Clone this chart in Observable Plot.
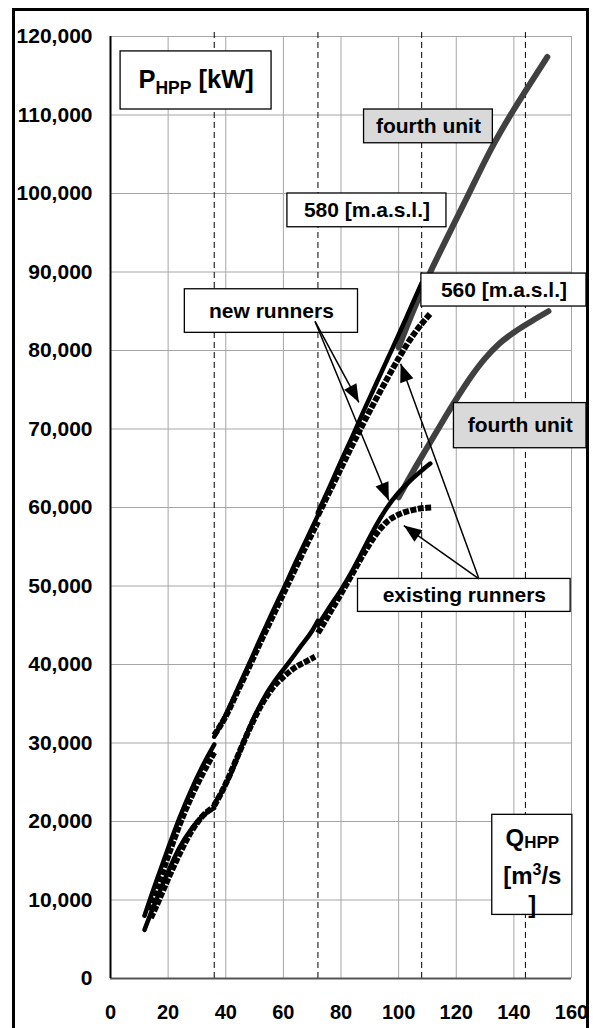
<!DOCTYPE html>
<html>
<head>
<meta charset="utf-8">
<script src="https://cdn.jsdelivr.net/npm/d3@7"></script>
<script src="https://cdn.jsdelivr.net/npm/@observablehq/plot@0.6"></script>
<style>
  html, body { margin: 0; padding: 0; background: #fff; }
  #wrap { position: relative; width: 593px; height: 1028px; overflow: hidden; }
  #frame { position: absolute; left: 12px; top: 8px; width: 571px; height: 1040px;
           border: 3px solid #000; pointer-events: none; }
</style>
</head>
<body>
<div id="wrap"></div>
<script>
// Power output of the HPP P [kW] against discharge Q [m3/s].
// Each curve is split at the points where another unit comes on line
// (one, two, three units); the fourth unit extends the range.

const qTicks = [0, 20, 40, 60, 80, 100, 120, 140, 160];
const pTicks = [0, 10000, 20000, 30000, 40000, 50000, 60000, 70000, 80000, 90000, 100000, 110000, 120000];
const unitLimits = [36, 72, 108, 144];

// headwater 580 m a.s.l.
const new580 = [
  [[11.8, 8000], [14, 10400], [16, 12500], [20, 16600], [24, 20500], [28, 24000], [32, 27100], [36, 29800]],
  [[36, 30800], [40, 33600], [44, 36800], [48, 40000], [52, 43300], [56, 46500], [60, 49600], [64, 52800], [68, 55900], [72, 59000]],
  [[72, 59400], [76, 62600], [80, 65900], [84, 69100], [88, 72400], [92, 75600], [96, 78800], [100, 82000], [104, 85300], [108, 88600]]
];
const existing580 = [
  [[13.5, 8700], [16, 11300], [20, 15600], [24, 19600], [28, 23100], [32, 26100], [36, 28800]],
  [[36, 31000], [40, 33400], [44, 36500], [48, 39600], [52, 42800], [56, 45900], [60, 49000], [64, 52100], [68, 55200], [72, 58200]],
  [[72, 59000], [76, 62000], [80, 65000], [84, 68000], [88, 70900], [92, 73700], [96, 76400], [100, 79000], [104, 81400], [108, 83400], [111, 84700]]
];
const fourth580 = [
  [[100, 80400], [105, 85000], [110, 89200], [117, 94500], [124, 99700], [132, 105600], [140, 110700], [146, 114200], [151.6, 117400]]
];

// headwater 560 m a.s.l.
const new560 = [
  [[11.8, 6200], [14, 8300], [16, 10100], [20, 13600], [24, 16700], [28, 19000], [32, 20700], [36, 21700]],
  [[36, 22300], [38, 23400], [42, 26300], [46, 30000], [50, 33400], [54, 36200], [58, 38400], [62, 40300], [66, 42300], [70, 44300], [72, 45600]],
  [[72, 45000], [76, 47300], [80, 49500], [84, 52000], [88, 54800], [92, 57600], [96, 60000], [100, 61900], [104, 63400], [108, 64700], [111, 65600]]
];
const existing560 = [
  [[14, 7700], [16, 9300], [20, 12700], [24, 15900], [28, 18700], [32, 20700], [36, 21900]],
  [[36, 22000], [40, 24800], [44, 28200], [48, 31600], [52, 34600], [56, 36900], [60, 38400], [64, 39600], [68, 40400], [71, 41000]],
  [[72, 44000], [76, 46500], [80, 49000], [84, 51600], [88, 54200], [92, 56500], [96, 58200], [100, 59100], [104, 59600], [108, 59900], [111.5, 60000]]
];
const fourth560 = [
  [[100, 61300], [105, 64600], [110, 67700], [115, 70800], [120, 73800], [125, 76600], [130, 79000], [135, 80900], [140, 82300], [146, 83700], [152, 85000]]
];

const rows = (segs, key) =>
  segs.flatMap((seg, i) => seg.map(([q, p]) => ({q, p, seg: `${key}-${i}`})));

const fourthRows = [...rows(fourth580, "f580"), ...rows(fourth560, "f560")];
const existingRows = [...rows(existing580, "e580"), ...rows(existing560, "e560")];
const newRows = [...rows(new580, "n580"), ...rows(new560, "n560")];

// labelled boxes on the chart (in data units)
const boxes = [
  {text: "fourth unit", q1: 88, q2: 132.7, p1: 106400, p2: 110700, fill: "#d9d9d9"},
  {text: "580 [m.a.s.l.]", q1: 61.4, q2: 116.6, p1: 95700, p2: 100000, fill: "#fff"},
  {text: "560 [m.a.s.l.]", q1: 107.9, q2: 165.2, p1: 85600, p2: 89800, fill: "#fff"},
  {text: "new runners", q1: 25.8, q2: 85.9, p1: 82250, p2: 87800, fill: "#fff"},
  {text: "fourth unit", q1: 119.2, q2: 165.2, p1: 67550, p2: 73300, fill: "#d9d9d9"},
  {text: "existing runners", q1: 85.9, q2: 159.7, p1: 46700, p2: 50900, fill: "#fff"}
];
const axisBoxes = [
  {q1: 3.5, q2: 55.9, p1: 110700, p2: 118100},
  {q1: 132.5, q2: 160.3, p1: 8100, p2: 20850}
];
const axisTexts = [
  {text: "P_{HPP} [kW]", q: 29.7, p: 114500, size: 25.5},
  {text: "Q_{HPP}", q: 146.4, p: 17920, size: 24},
  {text: "[m^{3}/s", q: 146.4, p: 12960, size: 24},
  {text: "]", q: 146.4, p: 9300, size: 24}
];
// pointers from the runner labels to the curves
const pointers = [
  {q1: 71, p1: 83700, q2: 86.2, p2: 73400},
  {q1: 71, p1: 83700, q2: 96.6, p2: 60900},
  {q1: 127.9, p1: 50900, q2: 100.7, p2: 78300},
  {q1: 127.9, p1: 50900, q2: 101.8, p2: 57700}
];

const font = "'Liberation Sans', Arial, Helvetica, sans-serif";

const chart = Plot.plot({
  width: 593,
  height: 1028,
  marginLeft: 110,
  marginRight: 22,
  marginTop: 36,
  marginBottom: 50,
  style: {fontFamily: font, fontSize: "21px", fontWeight: "bold", color: "#000", background: "transparent"},
  x: {domain: [0, 160], ticks: qTicks, tickSize: 0, tickPadding: 26, label: null},
  y: {domain: [0, 120000], ticks: pTicks, tickSize: 0, tickPadding: 18, tickFormat: d3.format(","), label: null},
  marks: [
    Plot.ruleX(qTicks.filter(d => d > 0), {stroke: "#a6a6a6", strokeWidth: 1}),
    Plot.ruleY(pTicks.filter(d => d > 0), {stroke: "#a6a6a6", strokeWidth: 1}),
    Plot.ruleX(unitLimits, {y1: 0, y2: 121000, stroke: "#000", strokeWidth: 1, strokeDasharray: "6,4"}),
    Plot.ruleY([0], {stroke: "#555", strokeWidth: 2}),
    Plot.ruleX([0], {y1: 0, y2: 120000, stroke: "#000", strokeWidth: 2}),
    Plot.line(fourthRows, {x: "q", y: "p", z: "seg", stroke: "#404040", strokeWidth: 6, strokeLinecap: "round", curve: "monotone-x"}),
    Plot.line(existingRows, {x: "q", y: "p", z: "seg", stroke: "#000", strokeWidth: 6, strokeDasharray: "6,1.5", strokeLinecap: "butt", curve: "monotone-x"}),
    Plot.line(newRows, {x: "q", y: "p", z: "seg", stroke: "#000", strokeWidth: 4.5, strokeLinecap: "round", curve: "monotone-x"}),
    Plot.rect(boxes, {x1: "q1", x2: "q2", y1: "p1", y2: "p2", fill: "fill", stroke: "#000", strokeWidth: 1.3}),
    Plot.rect(axisBoxes, {x1: "q1", x2: "q2", y1: "p1", y2: "p2", fill: "#fff", stroke: "#000", strokeWidth: 1.3}),
    Plot.text(boxes, {x: d => (d.q1 + d.q2) / 2, y: d => (d.p1 + d.p2) / 2, text: "text", fontSize: 21, fontWeight: "bold", fill: "#000"}),
    Plot.text(axisTexts, {x: "q", y: "p", text: "text", fontSize: "size", fontWeight: "bold", fill: "#000"}),
    Plot.link(pointers, {x1: "q1", y1: "p1", x2: "q2", y2: "p2", stroke: "#000", strokeWidth: 1.5})
  ]
});

const svg = d3.select(chart);

// the x tick labels are set a little smaller than the y tick labels
svg.selectAll('g[aria-label="x-axis tick label"]').attr("font-size", 20);

// filled arrowheads for the pointers
const defs = svg.append("defs");
defs.append("marker")
  .attr("id", "tri")
  .attr("viewBox", "-20 -9 22 18")
  .attr("markerWidth", 22)
  .attr("markerHeight", 18)
  .attr("markerUnits", "userSpaceOnUse")
  .attr("orient", "auto")
  .attr("refX", 0)
  .attr("refY", 0)
  .append("path")
  .attr("d", "M-18,-7L0,0L-18,7Z")
  .attr("fill", "#000");
svg.selectAll('g[aria-label="link"] path').attr("marker-end", "url(#tri)");

// subscripts and superscripts in the axis labels
const subSize = {"P_{HPP} [kW]": [17.5, 6.5], "Q_{HPP}": [17, 2]};
svg.selectAll("text").each(function () {
  const s = this.textContent;
  if (!/[_^]\{/.test(s)) return;
  const parts = s.split(/([_^]\{[^}]*\})/).filter(Boolean);
  const [sz, down] = subSize[s] || [16, 0];
  this.textContent = "";
  let shift = 0;
  for (const part of parts) {
    const m = part.match(/^([_^])\{([^}]*)\}$/);
    const ts = document.createElementNS("http://www.w3.org/2000/svg", "tspan");
    if (m) {
      const d = m[1] === "_" ? down : -9;
      ts.setAttribute("font-size", m[1] === "_" ? sz : 16);
      ts.setAttribute("dy", d - shift);
      shift = d;
      ts.textContent = m[2];
    } else {
      ts.setAttribute("dy", -shift);
      shift = 0;
      ts.textContent = part;
    }
    this.appendChild(ts);
  }
});

const wrap = document.getElementById("wrap");
wrap.appendChild(chart);
const frame = document.createElement("div");
frame.id = "frame";
wrap.appendChild(frame);
</script>
</body>
</html>
